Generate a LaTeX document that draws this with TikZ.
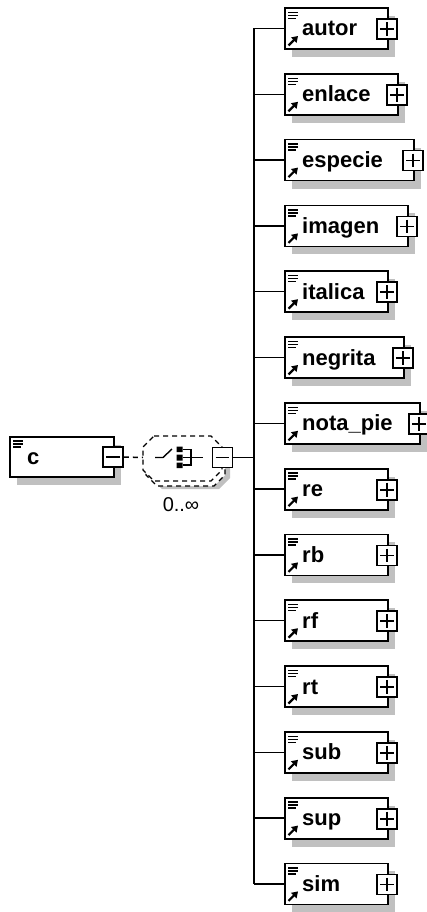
\documentclass[tikz,border=0pt]{standalone}
\usepackage{fontspec}
\setmainfont{Liberation Sans}
\usetikzlibrary{arrows.meta}
\definecolor{shadowgray}{RGB}{192,192,192}
\tikzset{
 boxline/.style={draw=black, line width=1.8pt, fill=white},
 elbox/.style={boxline, rectangle, minimum height=41pt, inner sep=0pt, anchor=west},
 pmbox/.style={boxline, rectangle, minimum width=20pt, minimum height=20pt, inner sep=0pt},
 eltext/.style={font=\bfseries\fontsize{22}{24}\selectfont, inner sep=0pt, anchor=base west},
 conn/.style={line width=1.5pt},
 iconline/.style={line width=1.3pt},
 refarrow/.style={line width=2.2pt, -{Triangle[length=6pt,width=7.5pt]}},
 signline/.style={line width=1.8pt},
 optline/.style={line width=1.4pt, dash pattern=on 5pt off 4pt},
 boxshadow/.style={fill=shadowgray, draw=none},
}
\begin{document}
\begin{tikzpicture}[x=1pt,y=-1pt]
\useasboundingbox (0,0) rectangle (427,912);

% ---- child elements ----
\foreach \n/\r [count=\i from 0] in {autor/387, enlace/397, especie/413, imagen/407, italica/387, negrita/403, nota\_pie/419, re/387, rb/387, rf/387, rt/387, sub/387, sup/387, sim/387}{
  \pgfmathsetmacro\yc{28.5+65.8*\i}
  \pgfmathsetmacro\w{\r-284}
  \coordinate (t\i) at (254,\yc);
  \path[boxshadow] (292,\yc-12.5) rectangle (\r+8,\yc+28.5);
  \node[elbox, minimum width=\w pt] (e\i) at (284,\yc) {};
  \draw[conn] (t\i) -- (e\i.west);
  \draw[iconline] (288,\yc-16) -- (298,\yc-16) (288,\yc-13) -- (298,\yc-13) (288,\yc-10) -- (296,\yc-10);
  \draw[refarrow] (288.5,\yc+17) -- (298,\yc+7.5);
  \node[eltext] (l\i) at (302,\yc+7.5) {\n};
  \node[pmbox] (p\i) at (\r,\yc+0.5) {};
  \draw[signline] ([xshift=4pt]p\i.west) -- ([xshift=-4pt]p\i.east)
                  ([yshift=-4pt]p\i.north) -- ([yshift=4pt]p\i.south);
}
\draw[conn] (t0) -- (t13);

% ---- element c ----
\path[boxshadow] (17,445) rectangle (121,485);
\node[elbox, minimum width=104pt, minimum height=40pt] (c) at (9,457) {};
\draw[iconline] (13,441) -- (23,441) (13,444) -- (23,444) (13,447) -- (21,447);
\node[eltext] (cl) at (27,464.5) {c};
\node[pmbox] (cm) at (113,457) {};
\draw[signline] ([xshift=4pt]cm.west) -- ([xshift=-4pt]cm.east);

% ---- sequence compositor ----
\path[boxshadow, shift={(8,8)}] (154,436) -- (211,436) -- (222,447) -- (222,470) -- (211,481) -- (154,481) -- (143,470) -- (143,447) -- cycle;
\draw[optline, fill=white, shift={(3,5)}] (154,436) -- (211,436) -- (222,447) -- (222,470) -- (211,481) -- (154,481) -- (143,470) -- (143,447) -- cycle;
\draw[optline, fill=white] (154,436) -- (211,436) -- (222,447) -- (222,470) -- (211,481) -- (154,481) -- (143,470) -- (143,447) -- cycle;
\node[minimum width=79pt, minimum height=45pt, inner sep=0pt] (comp) at (182.5,458.5) {};
\draw[line width=1.4pt] (155,457.5) -- (163,457.5) -- (172,449);
\fill (176.5,446.5) rectangle (182.5,452) (176.5,454.5) rectangle (182.5,460.5) (176.5,462.5) rectangle (182.5,468);
\draw[line width=1.4pt] (182.5,449.5) -- (191,449.5) -- (191,465) -- (182.5,465) (182.5,457.5) -- (203,457.5);
\node[pmbox] (sm) at (222.5,457.5) {};
\draw[signline] ([xshift=4pt]sm.west) -- ([xshift=-4pt]sm.east);
\node[font=\fontsize{20}{22}\selectfont, inner sep=0pt] (card) at (181,505) {0..∞};

% ---- connectors ----
\coordinate (octL) at (143,457.5);
\coordinate (tj) at (254,457.5);
\draw[conn, dash pattern=on 5pt off 4pt] (cm.east) -- (octL);
\draw[conn] (sm.east) -- (tj);
\end{tikzpicture}
\end{document}
